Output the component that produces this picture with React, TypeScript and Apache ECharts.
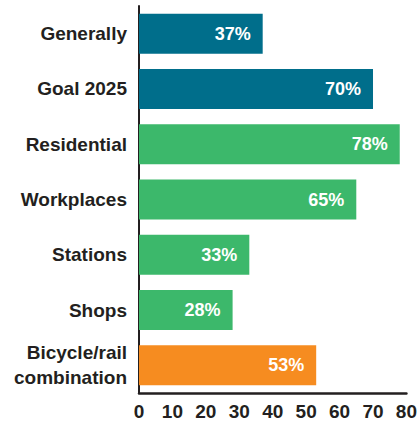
import React, { useEffect, useRef } from "react";
import * as echarts from "echarts";

const categories = [
  "Generally",
  "Goal 2025",
  "Residential",
  "Workplaces",
  "Stations",
  "Shops",
  "Bicycle/rail\ncombination",
];
const values = [37, 70, 78, 65, 33, 28, 53];
const groups = ["blue", "blue", "green", "green", "green", "green", "orange"];
const xTicks = [0, 10, 20, 30, 40, 50, 60, 70, 80];

const colorMap: Record<string, string> = {
  blue: "#006e8b",
  green: "#3cb86b",
  orange: "#f68c20",
};

const FONT = "'Liberation Sans', Arial, sans-serif";
const DARK = "#231f20";

export default function App() {
  const ref = useRef<HTMLDivElement>(null);
  useEffect(() => {
    if (!ref.current) return;
    const chart = echarts.init(ref.current, undefined, { renderer: "svg" });
    chart.setOption({
      animation: false,
      backgroundColor: "#ffffff",
      grid: { left: 139, right: 9, top: 6, bottom: 28, containLabel: false },
      xAxis: {
        type: "value",
        min: xTicks[0],
        max: xTicks[xTicks.length - 1],
        interval: 10,
        splitLine: { show: false },
        axisTick: { show: false },
        axisLine: { show: true, lineStyle: { color: DARK, width: 2.5 } },
        axisLabel: {
          color: DARK,
          fontFamily: FONT,
          fontWeight: "bold",
          fontSize: 19,
          margin: 9,
        },
      },
      yAxis: {
        type: "category",
        inverse: true,
        data: categories,
        axisTick: { show: false },
        axisLine: { show: true, lineStyle: { color: DARK, width: 2 } },
        axisLabel: {
          color: DARK,
          fontFamily: FONT,
          fontWeight: "bold",
          fontSize: 19,
          margin: 12,
          lineHeight: 25,
          align: "right",
        },
      },
      series: [
        {
          type: "bar",
          barWidth: 40,
          data: values.map((v, i) => ({
            value: v,
            itemStyle: { color: colorMap[groups[i]] },
          })),
          label: {
            show: true,
            position: "insideRight",
            distance: 12,
            formatter: "{c}%",
            color: "#ffffff",
            fontFamily: FONT,
            fontWeight: "bold",
            fontSize: 18,
          },
        },
      ],
    });
    return () => chart.dispose();
  }, []);
  return (
    <div
      ref={ref}
      style={{ position: "fixed", left: 0, top: 0, width: 420, height: 421 }}
    />
  );
}
